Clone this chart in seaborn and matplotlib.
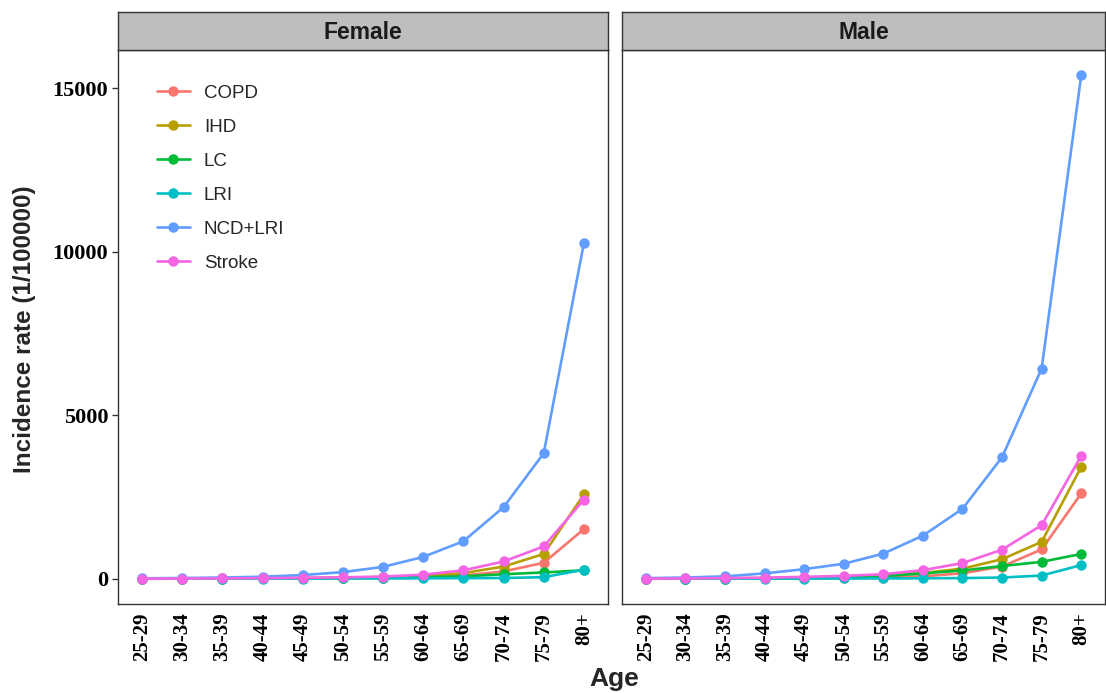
import matplotlib
matplotlib.use("Agg")
import matplotlib.pyplot as plt
import seaborn as sns
import pandas as pd

ages = ['25-29', '30-34', '35-39', '40-44', '45-49', '50-54', '55-59',
        '60-64', '65-69', '70-74', '75-79', '80+']
diseases = ['COPD', 'IHD', 'LC', 'LRI', 'NCD+LRI', 'Stroke']
sexes = ['Female', 'Male']

female_copd = [3, 5, 8, 12, 18, 25, 40, 60, 100, 225, 490, 1520]
female_ihd = [3, 6, 10, 15, 22, 35, 55, 90, 175, 375, 760, 2580]
female_lc = [2, 4, 6, 10, 15, 22, 35, 50, 75, 140, 195, 260]
female_lri = [8, 6, 6, 7, 8, 10, 12, 15, 20, 25, 50, 280]
female_ncd = [15, 25, 40, 65, 115, 205, 365, 670, 1150, 2190, 3840, 10270]
female_stroke = [5, 8, 12, 20, 30, 45, 70, 125, 260, 530, 990, 2420]

male_copd = [3, 5, 8, 12, 18, 25, 40, 75, 170, 375, 900, 2610]
male_ihd = [4, 8, 15, 25, 40, 70, 110, 180, 310, 600, 1130, 3420]
male_lc = [2, 4, 8, 15, 25, 45, 80, 165, 255, 390, 520, 760]
male_lri = [8, 7, 7, 8, 9, 10, 12, 16, 22, 40, 100, 420]
male_ncd = [20, 40, 75, 165, 295, 460, 770, 1320, 2140, 3720, 6430, 15400]
male_stroke = [5, 10, 20, 35, 60, 90, 140, 265, 480, 890, 1640, 3760]

yticks = [0, 5000, 10000, 15000]
palette = ['#F8766D', '#B79F00', '#00BA38', '#00BFC4', '#619CFF', '#F564E3']

series = {
    'Female': [female_copd, female_ihd, female_lc, female_lri, female_ncd, female_stroke],
    'Male': [male_copd, male_ihd, male_lc, male_lri, male_ncd, male_stroke],
}
rows = []
for sex in sexes:
    for d, vals in zip(diseases, series[sex]):
        for i, (a, v) in enumerate(zip(ages, vals)):
            rows.append({'Sex': sex, 'Disease': d, 'Age': a, 'pos': i, 'Rate': v})
df = pd.DataFrame(rows)

sns.set_style('white')
plt.rcParams['font.family'] = ['Liberation Sans', 'DejaVu Sans']

W, H = 1106, 693
fig = plt.figure(figsize=(W / 100, H / 100), dpi=100)

def fr(x0, y0, x1, y1):
    return [x0 / W, 1 - y1 / H, (x1 - x0) / W, (y1 - y0) / H]

panels = {'Female': (118, 608), 'Male': (622, 1105)}
ptop, pbot = 50, 604
stop = 12
border = '#333333'
serif = ['Liberation Serif', 'DejaVu Serif']

for sex in sexes:
    x0, x1 = panels[sex]
    ax = fig.add_axes(fr(x0, ptop, x1, pbot))
    sub = df[df['Sex'] == sex]
    sns.lineplot(data=sub, x='pos', y='Rate', hue='Disease', hue_order=diseases,
                 palette=palette, marker='o', markersize=7.5, markeredgewidth=0,
                 linewidth=1.9, ax=ax, legend=(sex == 'Female'))
    ax.set_xlim(-0.6, len(ages) - 0.4)
    ax.set_ylim(-770, 16170)
    ax.set_xticks(range(len(ages)))
    ax.set_xticklabels(ages, rotation=90, fontfamily=serif, fontweight='bold', fontsize=15)
    ax.set_xlabel('')
    ax.set_ylabel('')
    ax.grid(False)
    for s in ax.spines.values():
        s.set_color(border)
        s.set_linewidth(1.0)
    ax.tick_params(axis='x', length=4, width=1, color=border, pad=2, labelcolor='black')
    if sex == 'Female':
        ax.set_yticks(yticks)
        ax.set_yticklabels([str(t) for t in yticks], fontfamily=serif,
                           fontweight='bold', fontsize=16)
        ax.tick_params(axis='y', length=4, width=1, color=border, pad=3,
                       left=True, labelcolor='black')
        handles, labels = ax.get_legend_handles_labels()
        ax.legend(handles, labels, loc='upper left', bbox_to_anchor=(0.045, 0.968),
                  frameon=False, fontsize=13.5, handlelength=1.75,
                  labelspacing=0.9, handletextpad=0.75)
    else:
        ax.set_yticks(yticks)
        ax.set_yticklabels([])
        ax.tick_params(axis='y', length=0)

    sax = fig.add_axes(fr(x0, stop, x1, ptop))
    sax.set_facecolor('#BEBEBE')
    sax.set_xticks([])
    sax.set_yticks([])
    for s in sax.spines.values():
        s.set_color(border)
        s.set_linewidth(1.0)
    sax.text(0.5, 0.47, sex, ha='center', va='center', fontsize=16.5,
             fontweight='bold', color='#1A1A1A', transform=sax.transAxes)

fig.text(25 / W, 1 - 329 / H, 'Incidence rate (1/100000)', rotation=90,
         ha='center', va='center', fontsize=17.5, fontweight='bold')
fig.text(614 / W, 1 - 679 / H, 'Age', ha='center', va='center',
         fontsize=19, fontweight='bold')

fig.savefig('out.png', dpi=100, facecolor='white')
